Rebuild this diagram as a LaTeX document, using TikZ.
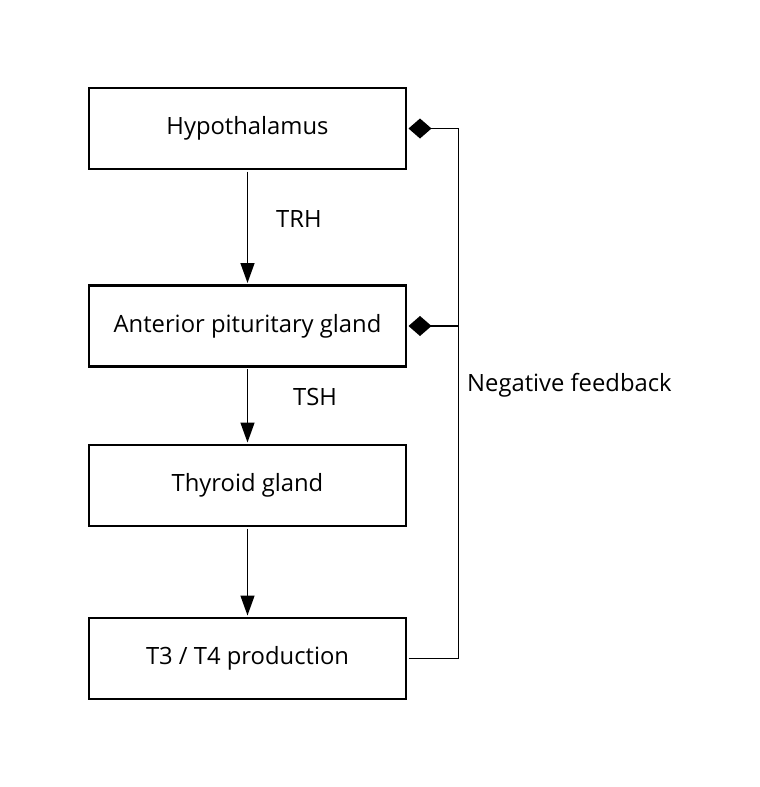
\documentclass[tikz,border=0pt]{standalone}
\usepackage{fontspec}
\setmainfont{Open Sans}
\usetikzlibrary{positioning}
\usetikzlibrary{arrows.meta}

\begin{document}
\begin{tikzpicture}[x=1pt,y=1pt,align=center,
font=\fontsize{23.8}{28}\selectfont,
blocco/.style={draw,line width=2.6pt,minimum width=317pt,minimum height=81pt,outer sep=2.5pt},
freccia/.style={line width=1.4pt,-{Triangle[length=20pt,width=14pt]}},
rombo/.style={line width=1.4pt,-{Diamond[length=23pt,width=20pt]}},
etichetta/.style={anchor=west,inner sep=0pt}
]
\useasboundingbox (0,0) rectangle (760,-787);
\node[blocco](ipo) at (247.5,-128.5){Hypothalamus};
%--
\node[blocco,below=111.5pt of ipo](ant){Anterior pituritary gland};
\draw[freccia] (ipo) -- (ant);
\node[etichetta] (trh) at (276,-219){TRH};
%--
\node[blocco,below=73.5pt of ant](tir){Thyroid gland};
\draw[freccia] (ant) -- (tir);
\node[etichetta] (tsh) at (293,-397){TSH};
%--
\node[blocco,below=87pt of tir](t34){T3 / T4 production};
\draw[freccia] (tir) -- (t34);
%/////////////////////////////////////////////////////////
\path (t34.east) ++(50,0) coordinate (fbb);
\draw[rombo] (t34.east) -- (fbb) |- (ipo.east);
\draw[rombo] (fbb |- ant.east) -- (ant.east);
\node[etichetta] (neg) at (467,-385){Negative feedback};
\end{tikzpicture}
\end{document}
